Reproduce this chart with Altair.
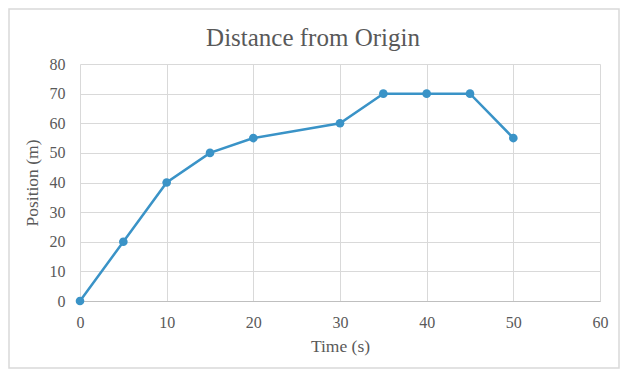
import altair as alt
import pandas as pd

time_s = [0, 5, 10, 15, 20, 30, 35, 40, 45, 50]
position_m = [0, 20, 40, 50, 55, 60, 70, 70, 70, 55]
x_ticks = [0, 10, 20, 30, 40, 50, 60]
y_ticks = [0, 10, 20, 30, 40, 50, 60, 70, 80]
title_text = ["Distance from Origin"]

df = pd.DataFrame({"t": time_s, "p": position_m})

FONT = "Liberation Serif"
TEXT = "#595959"
BLUE = "#3A93C7"
GRID = "#D9D9D9"

x_enc = alt.X(
    "t:Q",
    scale=alt.Scale(domain=[0, 60], nice=False),
    axis=alt.Axis(values=x_ticks, tickCount=7, title="Time (s)", labelPadding=13, titlePadding=7,
                  domainColor="#BFBFBF", labelFlush=False, labelOverlap=False),
)
y_enc = alt.Y(
    "p:Q",
    scale=alt.Scale(domain=[0, 80], nice=False),
    axis=alt.Axis(values=y_ticks, tickCount=9, title="Position (m)", labelPadding=15, titlePadding=8,
                  domain=False, labelFlush=False, labelOverlap=False),
)

base = alt.Chart(df)
line = base.mark_line(color=BLUE, strokeWidth=2.5).encode(x=x_enc, y=y_enc)
points = base.mark_circle(color=BLUE, size=75, opacity=1).encode(x=x_enc, y=y_enc)

border = alt.Chart(pd.DataFrame({"a": [0]})).mark_rect(
    fillOpacity=0, stroke=GRID, strokeWidth=1.5
).encode(
    x=alt.value(-71), x2=alt.value(539), y=alt.value(-55), y2=alt.value(304)
)

title = alt.Chart(pd.DataFrame({"txt": title_text})).mark_text(
    font=FONT, fontSize=25, color=TEXT, align="center", baseline="alphabetic"
).encode(
    text="txt:N", x=alt.value(233), y=alt.value(-18)
)

chart = (
    alt.layer(border, line, points, title)
    .properties(
        width=520,
        height=237,
        autosize=alt.AutoSizeParams(type="none"),
        padding={"left": 72, "top": 56, "right": 20, "bottom": 68},
    )
    .configure_view(stroke="transparent")
    .configure_axis(
        labelFont=FONT, titleFont=FONT, labelColor=TEXT, titleColor=TEXT,
        labelFontSize=16, titleFontSize=17.5, titleFontWeight="normal",
        ticks=False, gridColor=GRID, gridWidth=1,
    )
)

chart.save("out.html", embed_options={"renderer": "svg", "actions": False})
